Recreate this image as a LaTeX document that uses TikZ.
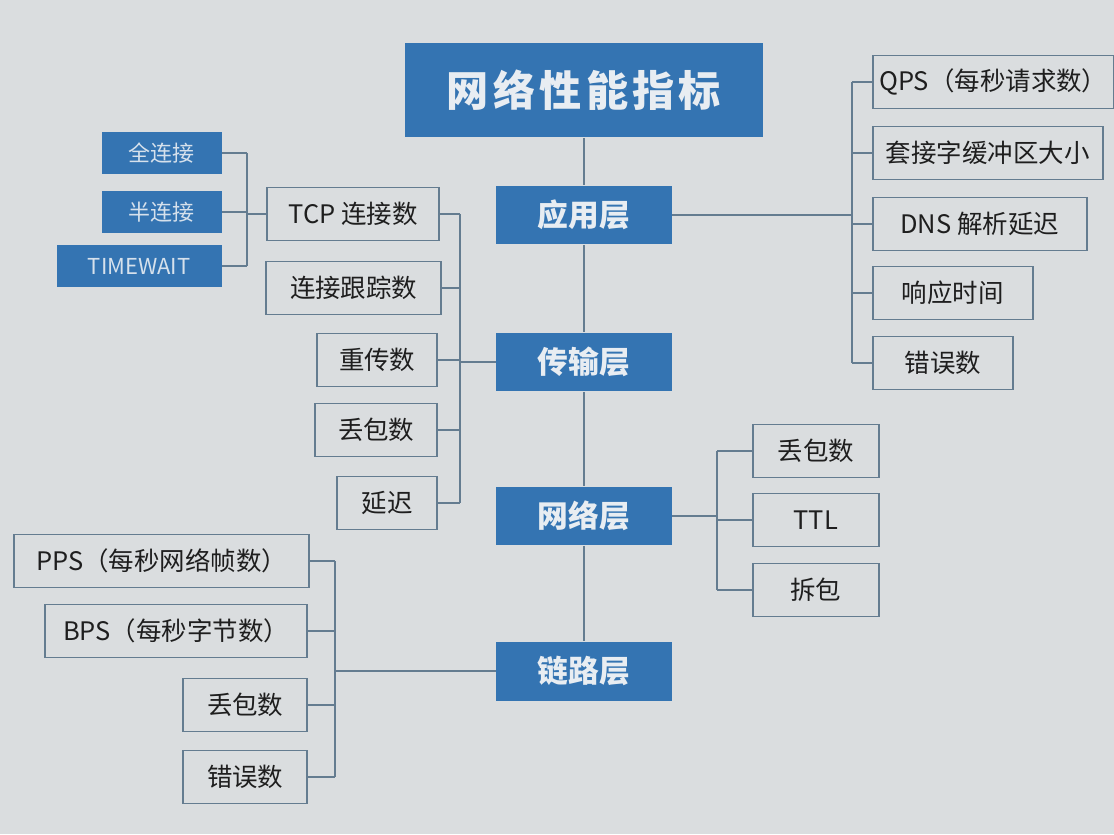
\documentclass[tikz,border=0pt]{standalone}
\usepackage{fontspec}
\setmainfont{Noto Sans CJK SC}
\usetikzlibrary{positioning}
\definecolor{paper}{HTML}{DADDDF}
\definecolor{bar}{HTML}{3474B2}
\definecolor{edge}{HTML}{647C90}
\definecolor{ink}{HTML}{1E1E1E}
\definecolor{pale}{HTML}{E8EDF2}

\tikzset{
  head/.style={fill=bar,text=pale,minimum width=7.16cm,minimum height=1.9cm,inner sep=0pt,
    font=\fontsize{24}{28}\selectfont\bfseries\addfontfeature{LetterSpace=10}},
  layer/.style={fill=bar,text=pale,minimum width=3.52cm,minimum height=1.18cm,inner sep=0pt,
    font=\fontsize{17.5}{20}\selectfont\bfseries},
  item/.style={draw=edge,line width=0.9pt,text=ink,minimum height=1.06cm,inner sep=0pt,
    font=\fontsize{14.5}{17}\selectfont},
  tag/.style={fill=bar,text=pale!90!bar,minimum height=0.86cm,inner sep=0pt,
    font=\fontsize{12.5}{15}\selectfont},
  link/.style={draw=edge,line width=0.9pt}
}

\begin{document}
\begin{tikzpicture}[x=0.02cm,y=-0.02cm]
\useasboundingbox[fill=paper] (0,0) rectangle (1114,834);

% main column
\node (top) at (584,90) [head] {网络性能指标};
\node (app) at (584,215) [layer] {应用层};
\node (trn) at (584,362) [layer] {传输层};
\node (net) at (584,516) [layer] {网络层};
\node (lnk) at (584,671) [layer] {链路层};
\draw[link] (top) -- (app) -- (trn) -- (net) -- (lnk);

% application layer
\coordinate (rt) at (852,0);
\node (q1) at (872,82)  [item,anchor=west,minimum width=4.82cm] {QPS（每秒请求数）};
\node (q2) at (872,153) [item,anchor=west,minimum width=4.6cm] {套接字缓冲区大小};
\node (q3) at (872,224) [item,anchor=west,minimum width=4.28cm] {DNS 解析延迟};
\node (q4) at (872,293) [item,anchor=west,minimum width=3.2cm] {响应时间};
\node (q5) at (872,363) [item,anchor=west,minimum width=2.8cm] {错误数};
\draw[link] (app.east) -- (app.east -| rt);
\draw[link] (q1.west -| rt) -- (q5.west -| rt);
\foreach \n in {q1,q2,q3,q4,q5}
  \draw[link] (\n.west) -- (\n.west -| rt);

% transport layer
\coordinate (tt) at (460,0);
\node (t1) at (440,214) [item,anchor=east,minimum width=3.44cm] {TCP 连接数};
\node (t2) at (442,288) [item,anchor=east,minimum width=3.5cm] {连接跟踪数};
\node (t3) at (438,360) [item,anchor=east,minimum width=2.4cm] {重传数};
\node (t4) at (438,430) [item,anchor=east,minimum width=2.44cm] {丢包数};
\node (t5) at (438,503) [item,anchor=east,minimum width=2.0cm] {延迟};
\draw[link] (trn.west) -- (trn.west -| tt);
\draw[link] (t1.east -| tt) -- (t5.east -| tt);
\foreach \n in {t1,t2,t3,t4,t5}
  \draw[link] (\n.east) -- (\n.east -| tt);

% tcp states
\coordinate (st) at (247,0);
\node (s1) at (222,153) [tag,anchor=east,minimum width=2.4cm] {全连接};
\node (s2) at (222,212) [tag,anchor=east,minimum width=2.4cm] {半连接};
\node (s3) at (222,266) [tag,anchor=east,minimum width=3.3cm] {TIMEWAIT};
\draw[link] (t1.west) -- (t1.west -| st);
\draw[link] (s1.east -| st) -- (s3.east -| st);
\foreach \n in {s1,s2,s3}
  \draw[link] (\n.east) -- (\n.east -| st);

% network layer
\coordinate (nt) at (717,0);
\node (n1) at (752,451) [item,anchor=west,minimum width=2.52cm] {丢包数};
\node (n2) at (752,520) [item,anchor=west,minimum width=2.52cm] {TTL};
\node (n3) at (752,590) [item,anchor=west,minimum width=2.52cm] {拆包};
\draw[link] (net.east) -- (net.east -| nt);
\draw[link] (n1.west -| nt) -- (n3.west -| nt);
\foreach \n in {n1,n2,n3}
  \draw[link] (\n.west) -- (\n.west -| nt);

% link layer
\coordinate (lt) at (335,0);
\node (l1) at (310,561) [item,anchor=east,minimum width=5.9cm] {PPS（每秒网络帧数）};
\node (l2) at (308,631) [item,anchor=east,minimum width=5.24cm] {BPS（每秒字节数）};
\node (l3) at (308,705) [item,anchor=east,minimum width=2.48cm] {丢包数};
\node (l4) at (308,777) [item,anchor=east,minimum width=2.48cm] {错误数};
\draw[link] (lnk.west) -- (lnk.west -| lt);
\draw[link] (l1.east -| lt) -- (l4.east -| lt);
\foreach \n in {l1,l2,l3,l4}
  \draw[link] (\n.east) -- (\n.east -| lt);
\end{tikzpicture}
\end{document}
